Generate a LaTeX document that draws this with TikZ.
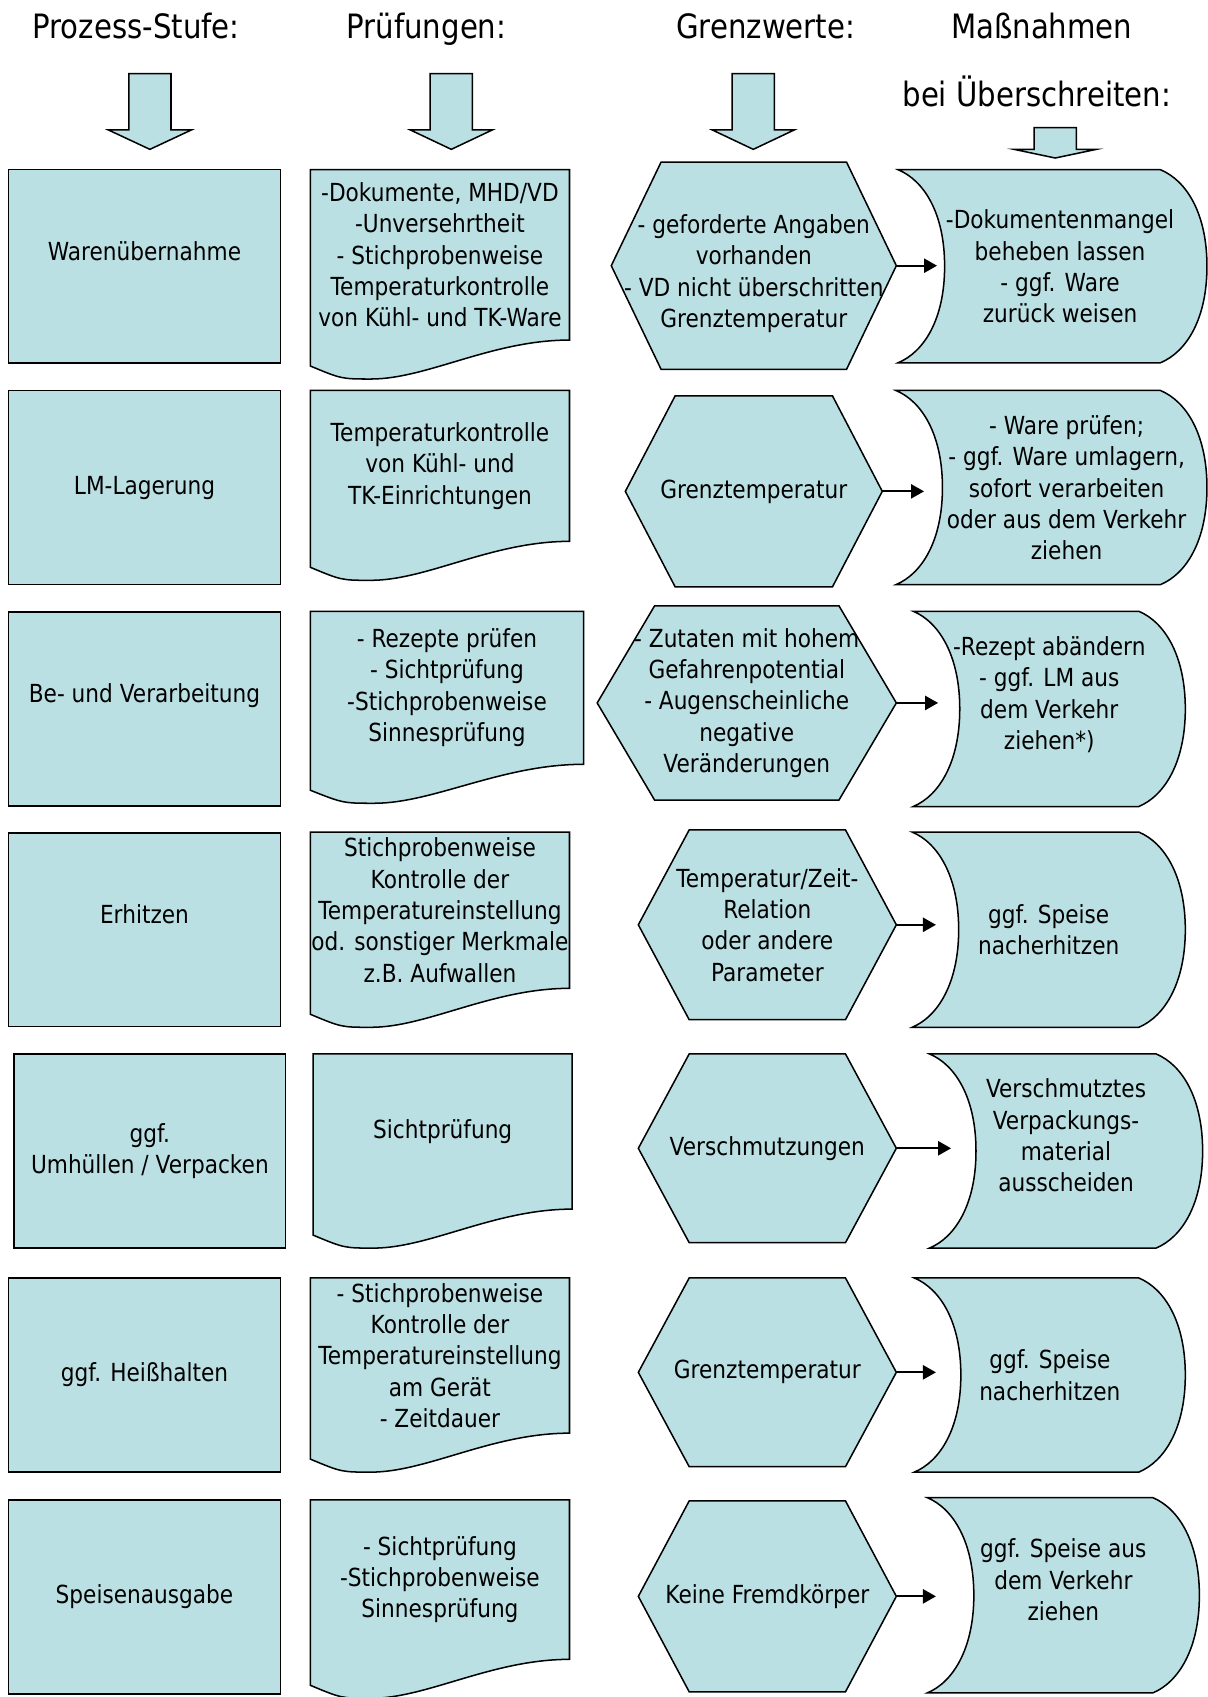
\documentclass[tikz,border=0pt]{standalone}
\usepackage{fontspec}
\setmainfont{DejaVu Sans}[FakeStretch=0.87]
\usetikzlibrary{calc,arrows.meta,backgrounds}
\definecolor{boxfill}{RGB}{187,224,227}
\begin{document}
\begin{tikzpicture}[x=1pt,y=-1pt,font=\fontsize{23}{29}\selectfont,
  titel/.style={anchor=base,font=\fontsize{31}{37}\selectfont},
  stufe/.style={rectangle,draw,fill=boxfill,line width=1.4pt,minimum width=251pt,minimum height=179pt,align=center,inner sep=0pt},
  feld/.style={rectangle,minimum width=239pt,align=center,inner sep=0pt},
  form/.style={draw,fill=boxfill,line width=1.4pt},
  blockpfeil/.style={draw,fill=boxfill,line width=1.4pt},
  pfeil/.style={-{Triangle[length=12pt,width=13pt]},line width=2pt},
  dokument/.style={insert path={(#1.north west) -- (#1.north east) -- (#1.south east) .. controls ($(#1.south east)!0.3!(#1.south west)$) and ($(#1.south west)!0.45!(#1.south east)+(0,36)$) .. ($(#1.south west)!0.234!(#1.south east)+(0,36)$) .. controls ($(#1.south west)!0.12!(#1.south east)+(0,36)$) .. ($(#1.south west)+(0,24)$) -- cycle}},
  sechseck/.style 2 args={insert path={(#1.west) -- ($(#1.north west)+(#2,0)$) -- ($(#1.north east)+(-#2,0)$) -- (#1.east) -- ($(#1.south east)+(-#2,0)$) -- ($(#1.south west)+(#2,0)$) -- cycle}},
  speicher/.style={insert path={(#1.north west) .. controls ($(#1.north west)+(24,10)$) and ($(#1.west)+(43,-49)$) .. ($(#1.west)+(43,0)$) .. controls ($(#1.west)+(43,49)$) and ($(#1.south west)+(24,-10)$) .. (#1.south west) -- ($(#1.south east)+(-43,0)$) .. controls ($(#1.south east)+(-19,-10)$) and ($(#1.east)+(0,49)$) .. (#1.east) .. controls ($(#1.east)+(0,-49)$) and ($(#1.north east)+(-19,10)$) .. ($(#1.north east)+(-43,0)$) -- cycle}}]
\useasboundingbox (0,0) rectangle (1116,1568);

\node[titel] at (125.7,36) (t1) {Prozess-Stufe:};
\node[titel] at (394,36) (t2) {Prüfungen:};
\node[titel] at (707.5,36) (t3) {Grenzwerte:};
\node[titel] at (962.5,36) (t4) {Maßnahmen};
\node[titel] at (958,98.5) (t5) {bei Überschreiten:};

\draw[blockpfeil] (119,68) -- (158,68) -- (158,120) -- (177,120) -- (138.5,138) -- (100,120) -- (119,120) -- cycle;
\draw[blockpfeil] (397.5,68) -- (436.5,68) -- (436.5,120) -- (455,120) -- (417,138) -- (379,120) -- (397.5,120) -- cycle;
\draw[blockpfeil] (676.5,68) -- (715.5,68) -- (715.5,120) -- (734,120) -- (696,138) -- (658,120) -- (676.5,120) -- cycle;
\draw[blockpfeil] (955.5,118) -- (994.5,118) -- (994.5,138) -- (1013,138) -- (975,146) -- (937,138) -- (955.5,138) -- cycle;

\node[stufe] at (133.5,246) (p1) {Warenübernahme\\\mbox{}};
\node[stufe] at (133.5,450.5) (p2) {LM-Lagerung};
\node[stufe] at (133.5,655) (p3) {Be- und Verarbeitung\\\mbox{}};
\node[stufe] at (133.5,859) (p4) {Erhitzen\\\mbox{}};
\node[stufe] at (138.5,1063.5) (p5) {ggf.\\Umhüllen / Verpacken};
\node[stufe] at (133.5,1270.5) (p6) {ggf. Heißhalten};
\node[stufe] at (133.5,1475.5) (p7) {Speisenausgabe};

\node[feld] [minimum height=157pt] at (406.5,235.5) (c1) {-Dokumente, MHD/VD\\-Unversehrtheit\\- Stichprobenweise\\Temperaturkontrolle\\von Kühl- und TK-Ware};
\node[feld] [minimum height=139pt] at (406.5,430.5) (c2) {Temperaturkontrolle\\von Kühl- und\\TK-Einrichtungen};
\node[feld] [minimum width=252pt,minimum height=141pt] at (413,635.5) (c3) {- Rezepte prüfen\\- Sichtprüfung\\-Stichprobenweise\\Sinnesprüfung};
\node[feld] [minimum height=144pt] at (406.5,841) (c4) {Stichprobenweise\\Kontrolle der\\Temperatureinstellung\\od. sonstiger Merkmale\\z.B. Aufwallen};
\node[feld] [minimum height=143pt] at (409,1045.5) (c5) {Sichtprüfung};
\node[feld] [minimum height=143pt] at (406.5,1252.5) (c6) {- Stichprobenweise\\Kontrolle der\\Temperatureinstellung\\am Gerät\\- Zeitdauer};
\node[feld] [minimum height=147pt] at (406.5,1459.5) (c7) {- Sichtprüfung\\-Stichprobenweise\\Sinnesprüfung};

\node[feld] [minimum width=263pt,minimum height=191pt] at (696.5,245.5) (g1) {\raisebox{-8pt}[\height][\depth]{\begin{tabular}{@{}c@{}}- geforderte Angaben\\vorhanden\\- VD nicht überschritten\\Grenztemperatur\end{tabular}}};
\node[feld] [minimum width=237pt,minimum height=176pt] at (696.5,454) (g2) {Grenztemperatur};
\node[feld] [minimum width=276pt,minimum height=179pt] at (690,649.5) (g3) {- Zutaten mit hohem\\Gefahrenpotential\\- Augenscheinliche\\negative\\Veränderungen};
\node[feld] [minimum width=238pt,minimum height=175pt] at (709,854.5) (g4) {Temperatur/Zeit-\\Relation\\oder andere\\Parameter};
\node[feld] [minimum width=238pt,minimum height=174pt] at (709,1061) (g5) {Verschmutzungen};
\node[feld] [minimum width=238pt,minimum height=174pt] at (709,1268) (g6) {Grenztemperatur};
\node[feld] [minimum width=238pt,minimum height=176pt] at (709,1475) (g7) {Keine Fremdkörper};

\node[feld] [minimum width=285pt,minimum height=178pt] at (972.5,246) (m1) {\hspace*{14pt}\raisebox{-3pt}[\height][\depth]{\begin{tabular}{@{}c@{}}-Dokumentenmangel\\beheben lassen\\- ggf. Ware\\zurück weisen\end{tabular}}};
\node[feld] [minimum width=287pt,minimum height=179pt] at (971.5,450.5) (m2) {\hspace*{28pt}\raisebox{-3pt}[\height][\depth]{\begin{tabular}{@{}c@{}}- Ware prüfen;\\- ggf. Ware umlagern,\\sofort verarbeiten\\oder aus dem Verkehr\\ziehen\end{tabular}}};
\node[feld] [minimum width=251pt,minimum height=180pt] at (969.5,655) (m3) {-Rezept abändern\\- ggf. LM aus\\dem Verkehr\\ziehen*)\\\mbox{}};
\node[feld] [minimum width=252pt,minimum height=180pt] at (969,859) (m4) {ggf. Speise\\nacherhitzen};
\node[feld] [minimum width=252pt,minimum height=179pt] at (985,1063.5) (m5) {Verschmutztes\\Verpackungs-\\material\\ausscheiden\\\mbox{}};
\node[feld] [minimum width=250pt,minimum height=179pt] at (970,1270.5) (m6) {ggf. Speise\\nacherhitzen};
\node[feld] [minimum width=251pt,minimum height=180pt] at (982.5,1474) (m7) {ggf. Speise aus\\dem Verkehr\\ziehen\\\mbox{}};

\begin{scope}[on background layer]
\path[form, dokument=c1];
\path[form, dokument=c2];
\path[form, dokument=c3];
\path[form, dokument=c4];
\path[form, dokument=c5];
\path[form, dokument=c6];
\path[form, dokument=c7];
\path[form, sechseck={g1}{46}];
\path[form, sechseck={g2}{46}];
\path[form, sechseck={g3}{53}];
\path[form, sechseck={g4}{47}];
\path[form, sechseck={g5}{47}];
\path[form, sechseck={g6}{47}];
\path[form, sechseck={g7}{47}];
\path[form, speicher=m1];
\path[form, speicher=m2];
\path[form, speicher=m3];
\path[form, speicher=m4];
\path[form, speicher=m5];
\path[form, speicher=m6];
\path[form, speicher=m7];
\end{scope}

					\draw[pfeil] (g1.east) -- ($(g1.east -| m1.west)+(36,0)$);
					\draw[pfeil] (g2.east) -- ($(g2.east -| m2.west)+(26,0)$);
					\draw[pfeil] (g3.east) -- ($(g3.east -| m3.west)+(23,0)$);
					\draw[pfeil] (g4.east) -- ($(g4.east -| m4.west)+(22,0)$);
					\draw[pfeil] (g5.east) -- ($(g5.east -| m5.west)+(20,0)$);
					\draw[pfeil] (g6.east) -- ($(g6.east -| m6.west)+(20,0)$);
					\draw[pfeil] (g7.east) -- ($(g7.east -| m7.west)+(8,0)$);
\end{tikzpicture}
\end{document}
